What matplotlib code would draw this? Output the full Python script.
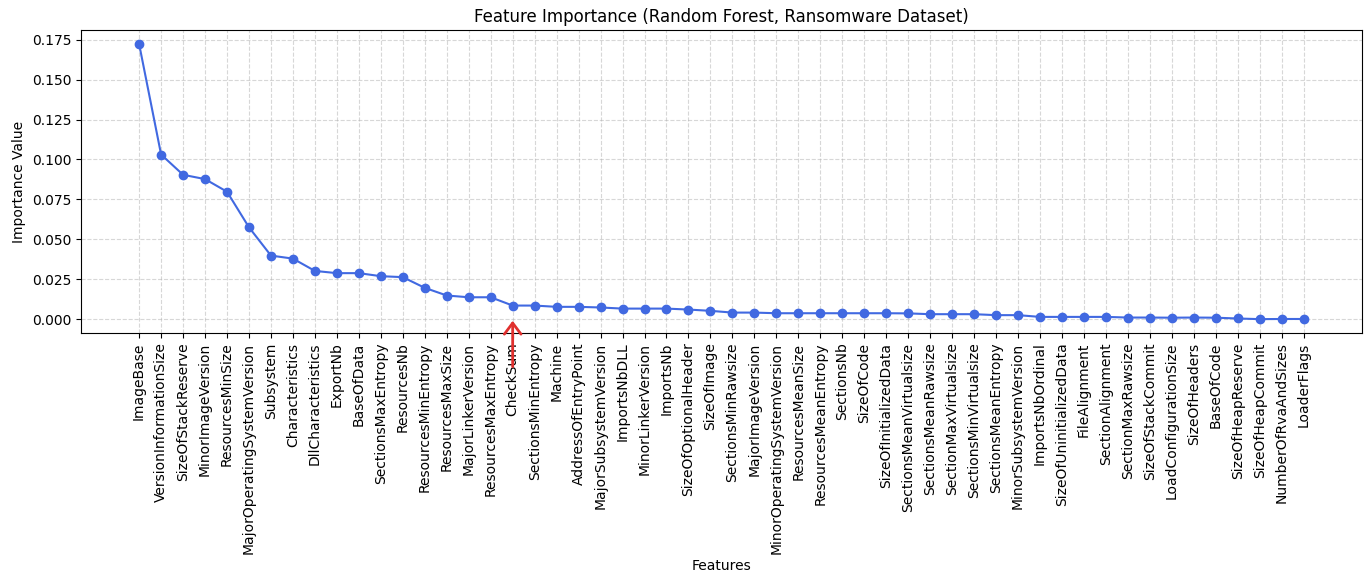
import matplotlib
matplotlib.use("Agg")
from matplotlib import pyplot as plt

features = [
    "ImageBase", "VersionInformationSize", "SizeOfStackReserve", "MinorImageVersion",
    "ResourcesMinSize", "MajorOperatingSystemVersion", "Subsystem", "Characteristics",
    "DllCharacteristics", "ExportNb", "BaseOfData", "SectionsMaxEntropy", "ResourcesNb",
    "ResourcesMinEntropy", "ResourcesMaxSize", "MajorLinkerVersion", "ResourcesMaxEntropy",
    "CheckSum", "SectionsMinEntropy", "Machine", "AddressOfEntryPoint",
    "MajorSubsystemVersion", "ImportsNbDLL", "MinorLinkerVersion", "ImportsNb",
    "SizeOfOptionalHeader", "SizeOfImage", "SectionsMinRawsize", "MajorImageVersion",
    "MinorOperatingSystemVersion", "ResourcesMeanSize", "ResourcesMeanEntropy", "SectionsNb",
    "SizeOfCode", "SizeOfInitializedData", "SectionsMeanVirtualsize", "SectionsMeanRawsize",
    "SectionMaxVirtualsize", "SectionsMinVirtualsize", "SectionsMeanEntropy",
    "MinorSubsystemVersion", "ImportsNbOrdinal", "SizeOfUninitializedData", "FileAlignment",
    "SectionAlignment", "SectionMaxRawsize", "SizeOfStackCommit", "LoadConfigurationSize",
    "SizeOfHeaders", "BaseOfCode", "SizeOfHeapReserve", "SizeOfHeapCommit",
    "NumberOfRvaAndSizes", "LoaderFlags",
]

importances = [
    0.1723, 0.1031, 0.0904, 0.0877, 0.0798, 0.0575, 0.0398, 0.0379,
    0.0302, 0.0288, 0.0288, 0.0269, 0.0263, 0.0196, 0.0148, 0.0137,
    0.0137, 0.0085, 0.0085, 0.0077, 0.0077, 0.0073, 0.0066, 0.0066,
    0.0066, 0.0060, 0.0052, 0.0041, 0.0041, 0.0037, 0.0037, 0.0037,
    0.0037, 0.0037, 0.0037, 0.0036, 0.0031, 0.0031, 0.0031, 0.0025,
    0.0025, 0.0014, 0.0014, 0.0014, 0.0014, 0.0010, 0.0010, 0.0009,
    0.0010, 0.0009, 0.0004, 0.0000, 0.0001, 0.0001,
]

highlight = "CheckSum"


def main():
    fig, ax = plt.subplots(figsize=(13.71, 5.71), dpi=100)
    xs = list(range(len(features)))

    ax.plot(xs, importances, marker="o", linestyle="-", color="royalblue",
            linewidth=1.5, markersize=6)

    ax.set_xticks(xs)
    ax.set_xticklabels(features, rotation=90)
    ax.set_xlabel("Features")
    ax.set_ylabel("Importance Value")
    ax.set_title("Feature Importance (Random Forest, Ransomware Dataset)")
    ax.grid(True, linestyle="--", alpha=0.5)

    # seta vermelha (aberta) marcando o CheckSum
    i = features.index(highlight)
    ax.annotate("", xy=(i, importances[i] - 0.0095), xytext=(0, -46),
                textcoords="offset pixels", annotation_clip=False,
                arrowprops=dict(arrowstyle="->,head_width=0.3,head_length=0.4",
                                color="#e0302e", lw=2, mutation_scale=20,
                                shrinkA=0, shrinkB=0))

    fig.subplots_adjust(left=0.059, right=0.9934, top=0.947, bottom=0.417)
    fig.savefig("out.png", dpi=100)


if __name__ == "__main__":
    main()
